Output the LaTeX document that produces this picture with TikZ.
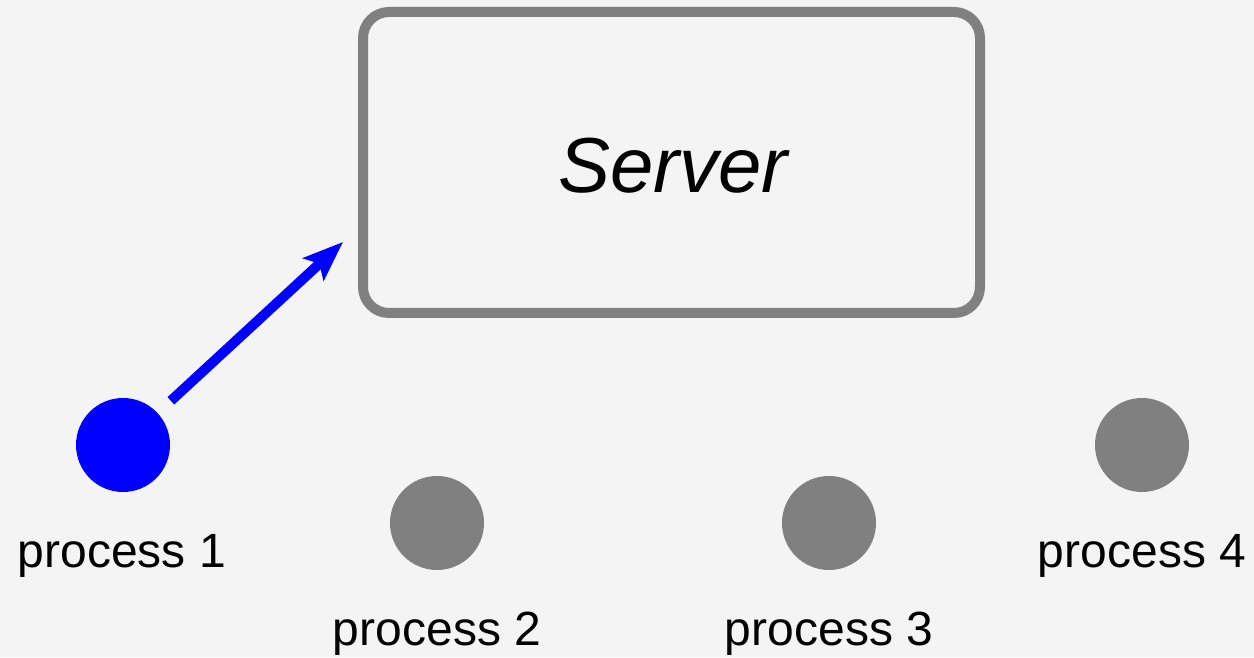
\documentclass[tikz,border=0pt]{standalone}
\usepackage{fontspec}
\setmainfont{Liberation Sans}
\usetikzlibrary{arrows.meta}
\definecolor{bgc}{HTML}{F4F4F4}
\definecolor{midgray}{HTML}{808080}
\definecolor{pblue}{HTML}{0000FF}
\begin{document}
\begin{tikzpicture}[x=1pt,y=1pt,
  proc/.style={circle,minimum size=94pt,inner sep=0pt,fill=midgray},
  plabel/.style={anchor=base,inner sep=0pt,font=\fontsize{48}{48}\selectfont},
  serverbox/.style={draw=midgray,line width=10pt,rounded corners=26pt,
    minimum width=617pt,minimum height=301pt,inner sep=0pt},
  req/.style={draw=pblue,line width=10pt,
    -{Stealth[length=40pt,width=30pt,inset=8pt]}}]
  \fill[bgc] (0,0) rectangle (1254,657);
  \useasboundingbox (0,0) rectangle (1254,657);
  % server
  \node[serverbox] (server) at (671.5,494.5) {};
  \node[anchor=base,inner sep=0pt,font=\fontsize{78}{78}\selectfont\itshape]
    (stext) at (673,464) {Server};
  % processes
  \node[proc,fill=pblue] (p1) at (123,212) {};
  \node[proc] (p2) at (437,134) {};
  \node[proc] (p3) at (829,134) {};
  \node[proc] (p4) at (1142,212) {};
  \node[plabel] (l1) at (122,90) {process 1};
  \node[plabel] (l2) at (437,12) {process 2};
  \node[plabel] (l3) at (829,12) {process 3};
  \node[plabel] (l4) at (1142,90) {process 4};
  % request from process 1 towards the server
  \coordinate (tip) at (343,415);
  \draw[req,shorten <=18pt] (p1) -- (tip);
\end{tikzpicture}
\end{document}
